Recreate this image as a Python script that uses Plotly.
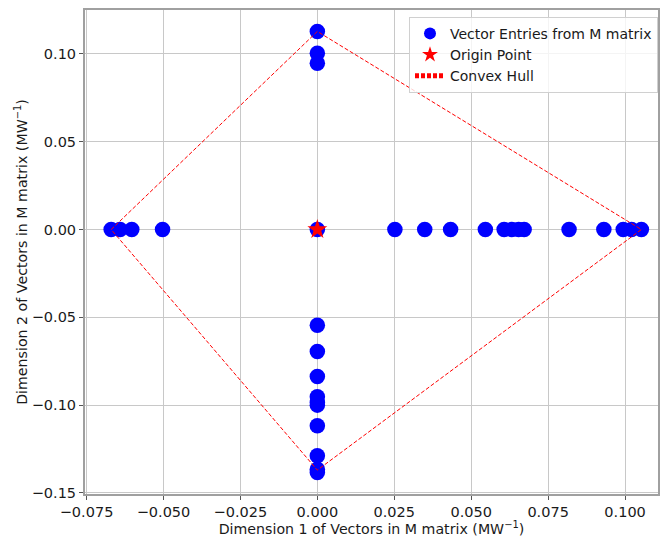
import plotly.graph_objects as go

# Data
vec_x = [-0.0670, -0.0641, -0.0603, -0.0503, 0.0,
         0.0252, 0.0349, 0.0433, 0.0546, 0.0607, 0.0632, 0.0654, 0.0672,
         0.0818, 0.0931, 0.0994, 0.1021, 0.1053,
         0.0, 0.0, 0.0,
         0.0, 0.0, 0.0, 0.0, 0.0, 0.0, 0.0, 0.0, 0.0, 0.0]
vec_y = [0.0, 0.0, 0.0, 0.0, 0.0,
         0.0, 0.0, 0.0, 0.0, 0.0, 0.0, 0.0, 0.0,
         0.0, 0.0, 0.0, 0.0, 0.0,
         0.1128, 0.1004, 0.0947,
         -0.0545, -0.0695, -0.0837, -0.0952, -0.0985, -0.1000, -0.1117, -0.1288, -0.1365, -0.1383]

origin_x = [0.0]
origin_y = [0.0]

hull_x = [-0.0670, 0.0, 0.1053, 0.0, -0.0670]
hull_y = [0.0, 0.1128, 0.0, -0.1370, 0.0]

x_ticks = [-0.075, -0.050, -0.025, 0.000, 0.025, 0.050, 0.075, 0.100]
y_ticks = [-0.15, -0.10, -0.05, 0.00, 0.05, 0.10]

FONT = "DejaVu Sans"

fig = go.Figure()
fig.add_trace(go.Scatter(
    x=vec_x, y=vec_y, mode="markers", name="Vector Entries from M matrix",
    marker=dict(color="#0000ff", size=15.5, line=dict(width=0))))
fig.add_trace(go.Scatter(
    x=origin_x, y=origin_y, mode="markers", name="Origin Point",
    marker=dict(color="#ff0000", symbol="star", size=15, line=dict(width=0))))
fig.add_trace(go.Scatter(
    x=hull_x, y=hull_y, mode="lines", name="Convex Hull",
    line=dict(color="#ff0000", width=1, dash="4px,2px")))

axis_common = dict(
    showgrid=True, gridcolor="#c8c8c8", gridwidth=1,
    zeroline=False, showline=True, linecolor="#a0a0a0", linewidth=2,
    mirror=True, ticks="outside", ticklen=4, tickcolor="#555555",
    tickfont=dict(family=FONT, size=14.5, color="#1a1a1a"),
)

fig.update_layout(
    width=660, height=537,
    margin=dict(l=85, r=0, t=10, b=43),
    paper_bgcolor="white", plot_bgcolor="white",
    font=dict(family=FONT, size=14, color="#1a1a1a"),
    xaxis=dict(range=[-0.0755, 0.1107], tickvals=x_ticks, tickformat=".3f",
               title=dict(text="Dimension 1 of Vectors in M matrix (MW<sup>−1</sup>)",
                          standoff=3, font=dict(family=FONT, size=14.2)),
               **axis_common),
    yaxis=dict(range=[-0.1506, 0.125], tickvals=y_ticks, tickformat=".2f",
               title=dict(text="Dimension 2 of Vectors in M matrix (MW<sup>−1</sup>)",
                          standoff=1, font=dict(family=FONT, size=14.2)),
               **axis_common),
    legend=dict(x=1.0, y=0.986, xanchor="right", yanchor="top",
                bgcolor="rgba(255,255,255,0.8)", bordercolor="#d0d0d0", borderwidth=1,
                font=dict(family=FONT, size=14), tracegroupgap=0, itemsizing="constant"),
    showlegend=True,
)

fig.write_html("out.html", config={"displayModeBar": False},
               post_script="document.body.style.margin='0';document.body.style.overflow='hidden';")
